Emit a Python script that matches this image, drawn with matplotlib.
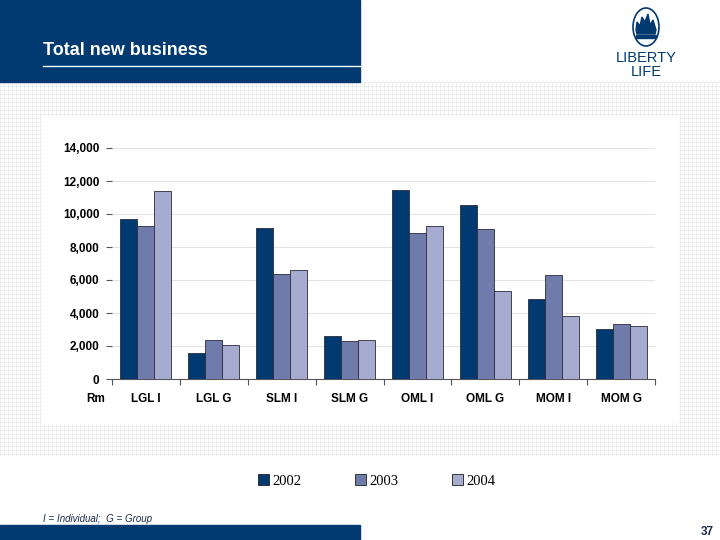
import numpy as np
import matplotlib
matplotlib.use("Agg")
import matplotlib.pyplot as plt
from matplotlib.patches import Rectangle, Ellipse, Polygon

categories = ["LGL I", "LGL G", "SLM I", "SLM G", "OML I", "OML G", "MOM I", "MOM G"]
years = ["2002", "2003", "2004"]
v2002 = [9700, 1600, 9150, 2630, 11450, 10530, 4860, 3040]
v2003 = [9300, 2350, 6380, 2310, 8870, 9070, 6300, 3360]
v2004 = [11400, 2050, 6620, 2370, 9300, 5310, 3830, 3220]
yticks = [0, 2000, 4000, 6000, 8000, 10000, 12000, 14000]

NAVY = "#003a70"
COLORS = ["#003a70", "#6e7bab", "#a6acd0"]

plt.rcParams["font.family"] = ["Liberation Sans", "DejaVu Sans"]
fig = plt.figure(figsize=(7.2, 5.4), dpi=100)

# slide decoration in pixel coordinates
bg = fig.add_axes([0, 0, 1, 1])
bg.set_xlim(0, 720); bg.set_ylim(540, 0); bg.axis("off")
for x in np.arange(0, 721, 4):
    bg.plot([x, x], [82, 455], color="#e8e8e8", lw=0.5, zorder=0)
for y in np.arange(82, 456, 4):
    bg.plot([0, 720], [y, y], color="#e8e8e8", lw=0.5, zorder=0)
bg.add_patch(Rectangle((0, 0), 360, 82, color=NAVY, zorder=2))
bg.plot([43, 360], [65.5, 65.5], color="white", lw=1, zorder=3)
bg.text(43, 55, "Total new business", color="white", fontsize=13, weight="semibold",
        va="baseline", zorder=3)
bg.add_patch(Rectangle((42, 116), 636, 306, color="white", zorder=1))
bg.add_patch(Rectangle((0, 525), 360, 15, color=NAVY, zorder=2))
bg.text(43, 522, "I = Individual;  G = Group", fontsize=7, style="italic", color="#1a2a4a")
bg.text(714, 535, "37", fontsize=8.5, weight="bold", color="#1a2a4a", ha="right")

# logo
bg.add_patch(Ellipse((646, 27), 26, 38, fill=False, ec=NAVY, lw=1.2, zorder=3))
bg.add_patch(Polygon([[637, 34], [655, 34], [656, 30], [653, 20], [650, 25], [648, 14],
                      [645, 22], [642, 17], [640, 26], [637, 22], [636, 30]],
                     color=NAVY, zorder=3))
bg.add_patch(Rectangle((636, 35), 20, 3, color=NAVY, zorder=3))
bg.text(646, 62, "LIBERTY", fontsize=10.5, color=NAVY, ha="center", va="baseline")
bg.text(646, 76, "LIFE", fontsize=10.5, color=NAVY, ha="center", va="baseline")

# legend
for i, (yr, c) in enumerate(zip(years, COLORS)):
    lx = [258, 355, 452][i]
    bg.add_patch(Rectangle((lx, 474), 11, 11, fc=c, ec="#333333", lw=0.7))
    bg.text(lx + 14, 485, yr, fontsize=10.5, family="Liberation Serif", va="baseline")

# chart
ax = fig.add_axes([112 / 720, 1 - 379 / 540, 543 / 720, 231 / 540])
x = np.arange(len(categories))
w = 0.25
for i, vals in enumerate([v2002, v2003, v2004]):
    ax.bar(x + (i - 1) * w, vals, w, color=COLORS[i], edgecolor="#2a2a3a", linewidth=0.6, zorder=3)
ax.set_xlim(-0.5, len(categories) - 0.5)
ax.set_ylim(0, 14000)
ax.set_yticks(yticks)
ax.set_yticklabels([f"{t:,}" for t in yticks], fontsize=8.5, weight="bold")
ax.yaxis.grid(True, color="#e4e4e4", lw=0.8, zorder=0)
ax.set_xticks(np.arange(-0.5, len(categories)), minor=False)
ax.set_xticklabels([])
ax.set_xticks(x, minor=True)
ax.set_xticklabels(categories, minor=True, fontsize=8.5, weight="bold")
ax.tick_params(axis="x", which="minor", length=0, pad=10)
ax.tick_params(axis="x", which="major", length=4, color="#555555", direction="out")
ax.tick_params(axis="y", length=4, color="#555555", pad=5)
for s in ["top", "right", "left"]:
    ax.spines[s].set_visible(False)
ax.spines["bottom"].set_color("#555555")
ax.text(-0.012, -0.085, "Rm", transform=ax.transAxes, fontsize=8.5, weight="bold",
        ha="right", va="center")

fig.savefig("out.png", dpi=100)
